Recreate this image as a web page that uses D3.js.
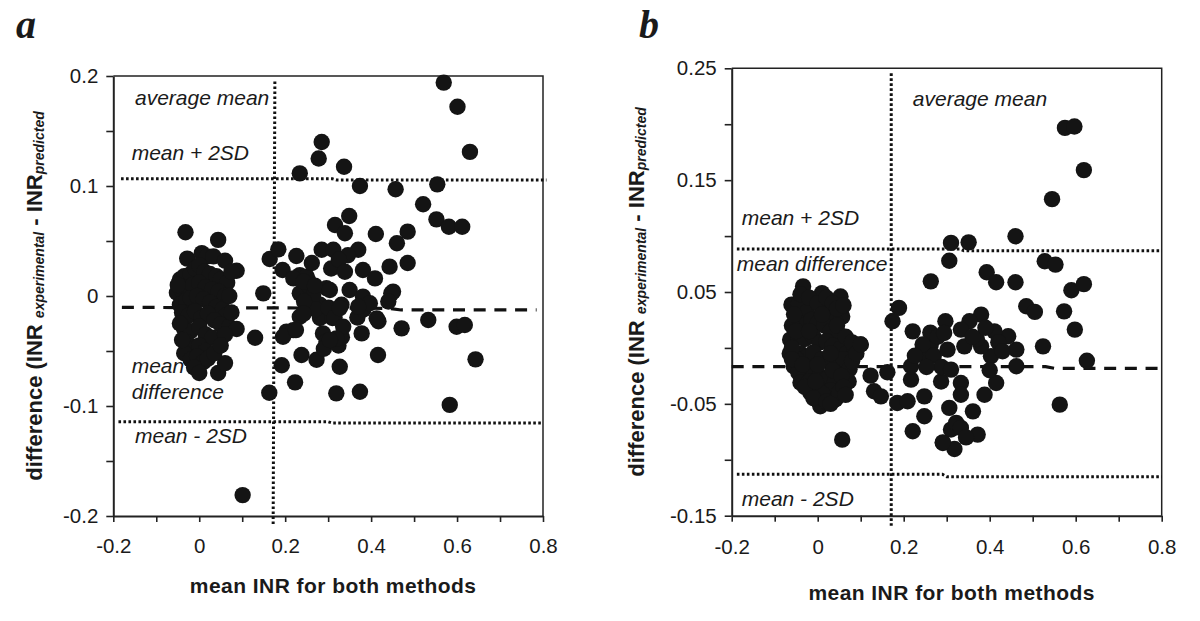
<!DOCTYPE html>
<html><head><meta charset="utf-8">
<script src="https://cdn.jsdelivr.net/npm/d3@7/dist/d3.min.js"></script>
<style>
body{margin:0;background:#fff}
svg{display:block}
text{font-family:"Liberation Sans",Arial,Helvetica,sans-serif;fill:#1a1a1a}
</style>
</head><body>
<svg id="chart" width="1200" height="621"></svg>
<script>
// ---------------- data ----------------
const pointsA = [
  [-0.032,0.058],[0.044,0.051],[-0.028,0.034],[0.006,0.039],[0.018,0.036],[0.033,0.036],[0.06,0.032],[0.087,0.023],
  [-0.045,0.015],[-0.035,0.018],[-0.02,0.02],[-0.01,0.025],[0.0,0.028],[0.012,0.022],[0.025,0.02],[0.04,0.018],[0.05,0.015],[0.065,0.012],
  [-0.052,0.003],[-0.04,0.005],[-0.03,0.008],[-0.015,0.01],[0.0,0.012],[0.015,0.008],[0.03,0.006],[0.045,0.004],[0.06,0.0],
  [-0.045,-0.008],[-0.03,-0.004],[-0.02,-0.002],[-0.005,0.0],[0.01,-0.003],[0.025,-0.006],[0.04,-0.01],[0.055,-0.012],[0.062,-0.018],
  [-0.04,-0.015],[-0.025,-0.018],[-0.01,-0.014],[0.005,-0.02],[0.02,-0.016],[0.035,-0.022],[0.05,-0.026],[0.07,-0.028],[0.087,-0.03],
  [-0.035,-0.03],[-0.02,-0.032],[0.0,-0.028],[0.015,-0.035],[0.03,-0.038],[0.06,-0.035],
  [-0.03,-0.042],[-0.015,-0.046],[0.0,-0.045],[0.015,-0.05],[-0.035,-0.052],[-0.02,-0.058],[-0.005,-0.055],[0.01,-0.06],[0.02,-0.057],
  [-0.012,-0.065],[0.0,-0.07],[0.044,-0.07],[0.06,-0.061],
  [-0.05,0.01],[-0.045,-0.025],[0.07,0.0],[0.075,-0.015],[-0.04,-0.04],[0.035,-0.052],[0.05,-0.045],[0.075,0.022],
  [0.13,-0.038],[0.149,0.0024],[0.164,0.0336],[0.184,0.0424],[0.194,0.0236],[0.226,0.0364],[0.234,0.019],[0.253,0.0145],
  [0.219,0.016],[0.25,0.0176],[0.234,0.0024],[0.257,0.0085],[0.296,0.007],[0.281,-0.008],[0.234,-0.0188],[0.281,-0.02],
  [0.203,-0.0324],[0.219,-0.031],[0.195,-0.037],[0.288,-0.034],[0.296,-0.0415],[0.238,-0.0536],[0.273,-0.058],[0.192,-0.063],
  [0.223,-0.0785],[0.163,-0.0879],[0.101,-0.181],[0.265,0.0],[0.27,-0.012],[0.244,-0.005],[0.31,-0.02],[0.29,-0.048],
  [0.307,0.025],[0.262,0.03],[0.243,0.013],[0.269,0.0094],[0.243,-0.016],[0.225,-0.031],[0.301,-0.0106],[0.324,-0.045],
  [0.332,-0.0375],[0.315,-0.0195],[0.368,-0.0195],[0.382,-0.0123],[0.417,-0.023],
  [0.234,0.1115],[0.278,0.125],[0.285,0.14],[0.285,0.042],[0.312,0.042],
  [0.569,0.194],[0.601,0.172],[0.630,0.131],[0.337,0.1175],[0.374,0.100],[0.457,0.097],[0.554,0.1015],[0.521,0.0834],
  [0.552,0.0697],[0.581,0.063],[0.612,0.063],[0.349,0.0727],[0.316,0.0645],[0.339,0.057],[0.411,0.0564],[0.485,0.0585],
  [0.46,0.048],[0.485,0.030],[0.443,0.0267],[0.370,0.042],[0.346,0.037],[0.325,0.033],[0.381,0.0236],[0.409,0.016],
  [0.451,0.004],[0.350,0.0055],[0.381,-0.0006],[0.304,0.0055],[0.331,-0.008],[0.339,0.022],[0.447,0.0024],[0.397,-0.0066],
  [0.327,-0.011],[0.370,-0.0097],[0.44,-0.005],[0.413,-0.0203],[0.533,-0.0218],[0.471,-0.0294],[0.599,-0.0279],[0.618,-0.0264],
  [0.335,-0.028],[0.319,-0.0385],[0.378,-0.034],[0.304,-0.04],[0.416,-0.0536],[0.643,-0.0576],[0.327,-0.0643],[0.319,-0.0885],
  [0.374,-0.087],[0.583,-0.099]
];

const pointsB = [
  [-0.034,0.055],[0.010,0.049],[0.053,0.046],[-0.061,0.0387],[-0.044,0.040],[0.006,0.0387],[0.057,0.028],[-0.025,0.032],
  [0.025,0.035],[0.04,0.025],[-0.05,0.025],[-0.035,0.02],[-0.015,0.025],[0.0,0.022],[0.015,0.02],[0.03,0.015],[0.05,0.012],
  [-0.064,0.0074],[-0.045,0.01],[-0.03,0.008],[-0.01,0.01],[0.005,0.005],[0.02,0.006],[0.035,0.002],[0.055,0.0],
  [0.069,-0.0045],[0.0998,0.003],[0.085,0.0],[-0.056,-0.0164],[-0.04,-0.005],[-0.025,-0.008],[-0.01,-0.004],[0.01,-0.01],
  [0.025,-0.012],[0.045,-0.015],[0.06,-0.01],[0.074,-0.019],[-0.045,-0.022],[-0.03,-0.025],[-0.012,-0.02],[0.005,-0.025],
  [0.02,-0.028],[0.04,-0.03],[0.072,-0.030],[-0.040,-0.031],[-0.017,-0.040],[0.0,-0.035],[0.015,-0.04],[0.03,-0.038],
  [0.006,-0.0522],[0.041,-0.046],[0.011,-0.041],[-0.02,-0.03],[-0.05,-0.01],[0.03,-0.005],[0.057,-0.082],
  [-0.06,0.02],[-0.055,0.03],[-0.04,0.048],[-0.02,0.045],[0.0,0.04],[0.02,0.045],[0.035,0.04],[0.045,0.035],[0.06,0.038],
  [-0.065,-0.005],[-0.06,0.0],[-0.05,0.015],[-0.02,0.015],[0.01,0.03],[0.045,0.02],[0.065,0.01],[0.08,0.005],[-0.06,-0.01],
  [-0.035,-0.015],[0.0,-0.015],[0.035,-0.02],[0.055,-0.025],[0.08,-0.012],[-0.03,-0.035],[-0.01,-0.045],[0.02,-0.048],
  [0.05,-0.04],[0.06,-0.035],[0.03,-0.05],[-0.005,-0.03],[0.09,-0.005],[0.065,-0.042],[0.1,0.003],
  [0.189,0.0358],[0.174,0.0238],[0.221,0.0148],[0.123,-0.0248],[0.162,-0.0218],[0.131,-0.0388],[0.147,-0.0433],
  [0.185,-0.0492],[0.209,-0.0477],[0.221,-0.0745],[0.248,-0.0611],[0.248,-0.0433],[0.217,-0.0283],[0.217,-0.0164],
  [0.248,-0.0075],[0.263,0.003],[0.263,0.0595],[0.291,-0.085],[0.310,-0.073],[0.287,-0.030],[0.262,0.0137],[0.297,0.0239],
  [0.244,0.003],[0.279,0.010],[0.27,-0.007],[0.288,-0.017],[0.253,-0.017],[0.226,-0.007],
  [0.575,0.1967],[0.597,0.198],[0.619,0.159],[0.545,0.133],[0.460,0.0998],[0.310,0.0939],[0.351,0.0944],[0.306,0.078],
  [0.393,0.0676],[0.415,0.0587],[0.460,0.0587],[0.528,0.0775],[0.553,0.0745],[0.590,0.0515],[0.619,0.057],[0.485,0.0372],
  [0.505,0.0322],[0.573,0.0327],[0.598,0.0164],[0.524,0.0014],[0.626,-0.0114],[0.563,-0.0507],[0.462,-0.0164],[0.462,-0.0015],
  [0.443,0.0104],[0.411,0.0148],[0.380,0.0298],[0.353,0.0238],[0.333,0.0164],[0.294,0.0134],[0.403,-0.0075],[0.310,-0.0194],
  [0.333,-0.0313],[0.333,-0.0418],[0.415,-0.0313],[0.388,-0.0418],[0.361,-0.0567],[0.306,-0.0536],[0.322,-0.067],[0.333,-0.0715],
  [0.372,-0.0775],[0.345,-0.080],[0.318,-0.0903],[0.291,-0.0844],[0.380,0.0014],[0.341,0.0014],[0.302,-0.0015],[0.37,0.008],
  [0.39,0.018],[0.36,0.01],[0.42,0.005],[0.4,-0.02],[0.43,-0.003]
];

// reference lines (data coordinates)
const upperA = [[-0.182,0.1065],[0.31,0.1065],[0.32,0.1055],[0.808,0.1055]];
const lowerA = [[-0.188,-0.1143],[0.30,-0.1143],[0.31,-0.1155],[0.80,-0.1155]];
const meanDiffA = [[-0.18,-0.0103],[0.44,-0.0112],[0.47,-0.0127],[0.785,-0.0127]];
const avgMeanA = [[0.176,0.195],[0.172,-0.209]];

const upperB = [[-0.188,0.0884],[0.33,0.0884],[0.34,0.0869],[0.80,0.0869]];
const lowerB = [[-0.188,-0.113],[0.29,-0.113],[0.30,-0.1151],[0.80,-0.1151]];
const meanDiffB = [[-0.2,-0.0168],[0.53,-0.0168],[0.55,-0.0182],[0.80,-0.0182]];
const avgMeanB = [[0.171,0.2455],[0.171,-0.159]];

// axis ticks and labels
const xTicks = [-0.2,-0.1,0,0.1,0.2,0.3,0.4,0.5,0.6,0.7,0.8];
const xLabelVals = [-0.2,0,0.2,0.4,0.6,0.8];
const xLabels = ["-0.2","0","0.2","0.4","0.6","0.8"];
const yTicksA = [-0.2,-0.15,-0.1,-0.05,0,0.05,0.1,0.15,0.2];
const yLabelValsA = [-0.2,-0.1,0,0.1,0.2];
const yLabelsA = ["-0.2","-0.1","0","0.1","0.2"];
const yTicksB = [-0.15,-0.1,-0.05,0,0.05,0.1,0.15,0.2,0.25];
const yLabelValsB = [-0.15,-0.05,0.05,0.15,0.25];
const yLabelsB = ["-0.15","-0.05","0.05","0.15","0.25"];

// annotations (data coordinates)
const notesA = [
  {t:"average mean", x:-0.1495, y:0.1736},
  {t:"mean + 2SD", x:-0.1572, y:0.1236},
  {t:"mean", x:-0.1572, y:-0.070},
  {t:"difference", x:-0.1572, y:-0.0936},
  {t:"mean - 2SD", x:-0.1495, y:-0.1336}
];
const notesB = [
  {t:"average mean", x:0.2213, y:0.2166},
  {t:"mean + 2SD", x:-0.1766, y:0.1096},
  {t:"mean difference", x:-0.1883, y:0.0685},
  {t:"mean - 2SD", x:-0.1766, y:-0.1416}
];

const xTitle = "mean INR for both methods";
const panelNames = ["a","b"];

// ---------------- drawing ----------------
const svg = d3.select("#chart");

function panel(cfg){
  const g = svg.append("g");
  const x = d3.scaleLinear().domain([-0.2,0.8]).range(cfg.xr);
  const y = d3.scaleLinear().domain(cfg.yd).range(cfg.yr);
  const line = d3.line().x(d=>x(d[0])).y(d=>y(d[1]));
  const fmt = (vals, labs) => v => { const i = vals.findIndex(u=>Math.abs(u-v)<1e-9); return i>=0 ? labs[i] : ""; };

  // frame (top & right)
  g.append("path")
    .attr("d", `M${x(-0.2)},${y(cfg.yd[1])}H${x(0.8)}V${y(cfg.yd[0])}`)
    .attr("fill","none").attr("stroke","#222").attr("stroke-width",1.5);

  // axes
  const ax = g.append("g").attr("transform",`translate(0,${y(cfg.yd[0])})`)
    .call(d3.axisBottom(x).tickValues(xTicks).tickFormat(fmt(xLabelVals,xLabels)).tickSize(6).tickPadding(cfg.xpad).tickSizeOuter(0));
  const ay = g.append("g").attr("transform",`translate(${x(-0.2)},0)`)
    .call(d3.axisLeft(y).tickValues(cfg.yTicks).tickFormat(fmt(cfg.yLabVals,cfg.yLabs)).tickSize(7).tickPadding(8).tickSizeOuter(0));
  [ax,ay].forEach(a=>{
    a.select(".domain").attr("stroke","#222").attr("stroke-width",2);
    a.selectAll(".tick line").attr("stroke","#222").attr("stroke-width",1.6);
    a.selectAll(".tick text").attr("font-size",20.5).attr("fill","#1a1a1a")
      .attr("font-family",'"Liberation Sans",Arial,sans-serif');
  });

  // reference lines
  [cfg.upper, cfg.lower, cfg.avg].forEach(d=>{
    g.append("path").attr("d",line(d)).attr("fill","none").attr("stroke","#111")
      .attr("stroke-width",3).attr("stroke-dasharray","2.6,2.4");
  });
  g.append("path").attr("d",line(cfg.meanDiff)).attr("fill","none").attr("stroke","#111")
    .attr("stroke-width",3.2).attr("stroke-dasharray","12,8.7");

  // annotations
  g.selectAll("text.note").data(cfg.notes).join("text").attr("class","note")
    .attr("x",d=>x(d.x)).attr("y",d=>y(d.y)).attr("font-size",21).attr("font-style","italic")
    .attr("fill","#1a1a1a").text(d=>d.t);

  // points
  g.selectAll("circle").data(cfg.points).join("circle")
    .attr("cx",d=>x(d[0])).attr("cy",d=>y(d[1])).attr("r",8.2).attr("fill","#141414");

  // x title
  g.append("text").attr("x",(cfg.xr[0]+cfg.xr[1])/2+5).attr("y",cfg.xtY)
    .attr("text-anchor","middle").attr("font-size",21).attr("font-weight","bold")
    .attr("letter-spacing","0.45px").text(xTitle);

  // y title
  const yt = g.append("text").attr("transform",`translate(${cfg.ytX},${cfg.ytY}) rotate(-90)`)
    .attr("text-anchor","middle").attr("font-size",22).attr("font-weight","bold");
  yt.append("tspan").text("difference (INR ");
  yt.append("tspan").attr("font-size",14).attr("font-style","italic").attr("dy",2).text("experimental");
  yt.append("tspan").attr("dy",-2).text(" - INR");
  yt.append("tspan").attr("font-size",14).attr("font-style","italic").attr("dy",2).text("predicted");

  // panel letter
  svg.append("text").attr("x",cfg.letterX).attr("y",38).attr("font-size",40)
    .attr("font-weight","bold").attr("font-style","italic")
    .style("font-family",'"Liberation Serif","Times New Roman",serif').text(cfg.letter);
}

panel({xr:[113.3,543], yd:[-0.2,0.2], yr:[516,76], yTicks:yTicksA, yLabVals:yLabelValsA, yLabs:yLabelsA,
  upper:upperA, lower:lowerA, meanDiff:meanDiffA, avg:avgMeanA, notes:notesA, points:pointsA,
  xpad:16, xtY:593, ytX:42, ytY:296, letter:panelNames[0], letterX:16});
panel({xr:[731.7,1161.7], yd:[-0.15,0.25], yr:[515.7,68.3], yTicks:yTicksB, yLabVals:yLabelValsB, yLabs:yLabelsB,
  upper:upperB, lower:lowerB, meanDiff:meanDiffB, avg:avgMeanB, notes:notesB, points:pointsB,
  xpad:18, xtY:600, ytX:644, ytY:292, letter:panelNames[1], letterX:639});
</script>
</body></html>
